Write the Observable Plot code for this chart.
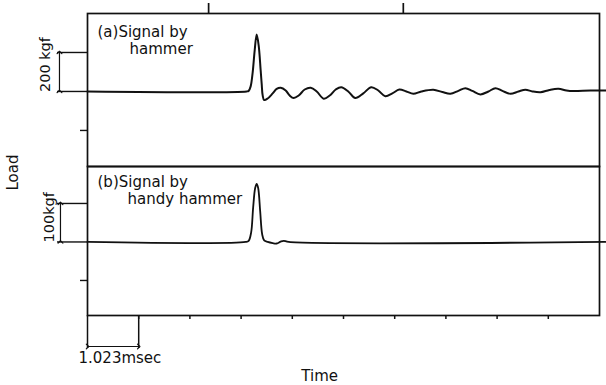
<!DOCTYPE html>
<html>
<head>
<meta charset="utf-8">
<script src="https://cdn.jsdelivr.net/npm/d3@7"></script>
<script src="https://cdn.jsdelivr.net/npm/@observablehq/plot@0.6"></script>
<style>
  html, body { margin: 0; padding: 0; background: #fff; }
  #wrap { position: relative; width: 606px; height: 385px; }
  #wrap svg { position: absolute; left: 0; top: 0; background: transparent; overflow: visible; }
</style>
</head>
<body>
<div id="wrap"></div>
<script>
// ---- data (time in msec, load in kgf) ----
const timeA = [0, 3.18, 3.22, 3.26, 3.30, 3.34, 3.38, 3.42, 3.46, 3.48, 3.50, 3.53, 3.60, 3.70, 3.78, 3.86, 3.96, 4.04, 4.12, 4.22, 4.34, 4.46, 4.58, 4.72, 4.84, 4.96, 5.07, 5.21, 5.35, 5.51, 5.67, 5.81, 5.95, 6.09, 6.23, 6.37, 6.51, 6.67, 6.91, 7.09, 7.25, 7.41, 7.55, 7.69, 7.85, 8.01, 8.15, 8.29, 8.45, 8.61, 8.75, 8.89, 9.05, 9.23, 9.41, 9.57, 9.71, 10.05, 10.35];
const loadA = [0, 0, 3, 26, 97, 210, 292, 236, 108, 40, -20, -44, -36, -10, 13, 19, 5, -21, -34, -21, 10, 19, 0, -37, -21, 10, 22, 0, -34, -10, 22, 5, -24, -10, 10, 0, -12, 0, 9, -3, -12, 3, 17, 3, -15, 0, 17, 3, -12, 0, 9, 0, -4, 8, 14, 5, 2, 5, 5];
const timeB = [0, 3.16, 3.22, 3.27, 3.31, 3.35, 3.38, 3.41, 3.45, 3.49, 3.53, 3.60, 3.70, 3.78, 3.86, 3.92, 4.02, 10.35];
const loadB = [0, 0, 3, 25, 90, 140, 151, 140, 80, 20, 4, 0, -3, -4, 1, 3, 0, 0];

const timeTicks = [1.023, 2.046, 3.069, 4.092, 5.115, 6.138, 7.161, 8.184, 9.207];
const topTicks = [2.42, 6.31];
const scaleA = [0, 200];     // 200 kgf bar
const scaleB = [0, 100];     // 100 kgf bar
const msecBar = [0, 1.023];  // 1.023 msec bar
const labelsA = ["(a)Signal by", "hammer"];
const labelsB = ["(b)Signal by", "handy hammer"];

const W = 606, H = 385, ML = 87, MR = 7;
const xDomain = [0, 10.23];
const font = "DejaVu Sans, sans-serif";
const ink = "#111";
const rowsA = timeA.map((t, i) => ({t, v: loadA[i]}));
const rowsB = timeB.map((t, i) => ({t, v: loadB[i]}));

// ---- top panel ----
const yA = [-385, 400];
const topA = 13, botA = 166;
const kA = (yA[1] - yA[0]) / (botA - topA); // kgf per px
const plotA = Plot.plot({
  width: W, height: H,
  marginLeft: ML, marginRight: MR, marginTop: topA, marginBottom: H - botA,
  style: {fontFamily: font, background: "transparent", overflow: "visible"},
  x: {domain: xDomain, axis: null},
  y: {domain: yA, axis: null},
  marks: [
    Plot.frame({stroke: ink, strokeWidth: 1.7}),
    Plot.ruleX(topTicks, {y1: yA[1], y2: yA[1] + 10 * kA, stroke: ink, strokeWidth: 1.7}),
    Plot.ruleY([-200], {x1: -0.14, x2: 0, stroke: ink, strokeWidth: 1.4}),
    Plot.ruleY(scaleA, {x1: -0.6, x2: 0, stroke: ink, strokeWidth: 1.4}),
    Plot.link([scaleA], {x1: -0.56, x2: -0.56, y1: d => d[0], y2: d => d[1], stroke: ink, strokeWidth: 1.2, markerStart: "arrow", markerEnd: "arrow"}),
    Plot.line(rowsA, {x: "t", y: "v", stroke: ink, strokeWidth: 2, curve: "catmull-rom"}),
    Plot.text([labelsA[0]], {x: 0.2, y: 303, text: d => d, textAnchor: "start", lineAnchor: "middle", fontSize: 15, fill: ink}),
    Plot.text([labelsA[1]], {x: 0.84, y: 215, text: d => d, textAnchor: "start", lineAnchor: "middle", fontSize: 15, fill: ink}),
    Plot.text(["200 kgf"], {x: -0.84, y: 138, text: d => d, rotate: -90, lineAnchor: "middle", fontSize: 14.5, fill: ink}),
    Plot.text(["Load"], {x: -1.48, y: -416, text: d => d, rotate: -90, lineAnchor: "middle", fontSize: 15, fill: ink})
  ]
});

// ---- bottom panel ----
const yB = [-191, 196];
const topB = 166, botB = 315;
const kB = (yB[1] - yB[0]) / (botB - topB);
const plotB = Plot.plot({
  width: W, height: H,
  marginLeft: ML, marginRight: MR, marginTop: topB, marginBottom: H - botB,
  style: {fontFamily: font, background: "transparent", overflow: "visible"},
  x: {domain: xDomain, axis: null},
  y: {domain: yB, axis: null},
  marks: [
    Plot.frame({stroke: ink, strokeWidth: 1.7}),
    Plot.ruleX(timeTicks, {y1: yB[0], y2: yB[0] - 4 * kB, stroke: ink, strokeWidth: 1.5}),
    Plot.ruleX(msecBar, {y1: yB[0], y2: yB[0] - 33 * kB, stroke: ink, strokeWidth: 1.5}),
    Plot.link([msecBar], {x1: d => d[0], x2: d => d[1], y1: yB[0] - 31 * kB, y2: yB[0] - 31 * kB, stroke: ink, strokeWidth: 1.2, markerStart: "arrow", markerEnd: "arrow"}),
    Plot.ruleY([-100], {x1: -0.14, x2: 0, stroke: ink, strokeWidth: 1.4}),
    Plot.ruleY(scaleB, {x1: -0.6, x2: 0, stroke: ink, strokeWidth: 1.4}),
    Plot.link([scaleB], {x1: -0.54, x2: -0.54, y1: d => d[0], y2: d => d[1], stroke: ink, strokeWidth: 1.2, markerStart: "arrow", markerEnd: "arrow"}),
    Plot.line(rowsB, {x: "t", y: "v", stroke: ink, strokeWidth: 1.8, curve: "catmull-rom"}),
    Plot.text([labelsB[0]], {x: 0.2, y: 155, text: d => d, textAnchor: "start", lineAnchor: "middle", fontSize: 15, fill: ink}),
    Plot.text([labelsB[1]], {x: 0.8, y: 110, text: d => d, textAnchor: "start", lineAnchor: "middle", fontSize: 15, fill: ink}),
    Plot.text(["100kgf"], {x: -0.76, y: 64, text: d => d, rotate: -90, lineAnchor: "middle", fontSize: 14.5, fill: ink}),
    Plot.text(["1.023msec"], {x: -0.18, y: -303, text: d => d, textAnchor: "start", lineAnchor: "middle", fontSize: 15, fill: ink}),
    Plot.text(["Time"], {x: 4.64, y: -349, text: d => d, lineAnchor: "middle", fontSize: 15, fill: ink})
  ]
});

const wrap = document.getElementById("wrap");
wrap.appendChild(plotB);
wrap.appendChild(plotA);
</script>
</body>
</html>
